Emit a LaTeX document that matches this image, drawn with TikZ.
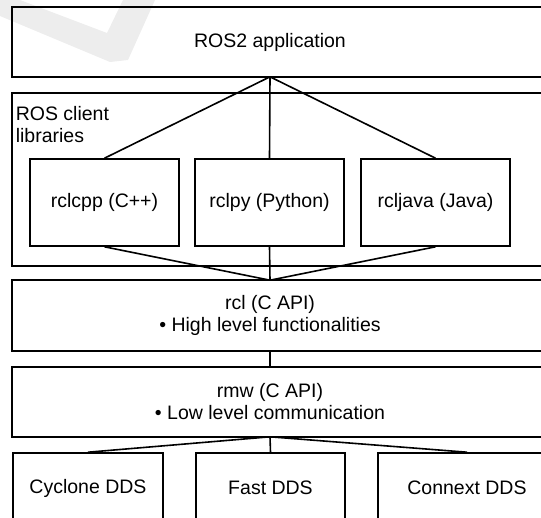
\documentclass[tikz,border=0pt]{standalone}
\usepackage{fontspec}
\setmainfont{Liberation Sans}
\begin{document}
\begin{tikzpicture}[x=1pt,y=-1pt, line width=1.6pt,
  lbl/.style={font=\fontsize{19.5}{22}\selectfont},
  box/.style={lbl, draw, rectangle, inner sep=0pt, align=center},
  wide/.style={lbl, rectangle, inner sep=0pt, minimum width=514pt, align=center},
  frame/.style={draw, line width=1.6pt},
  conn/.style={draw, line width=1.6pt},
  wmark/.style={fill=black, fill opacity=0.07, draw=none}]
\useasboundingbox (0,0) rectangle (541,517);
\clip (0,0) rectangle (541,517);
\fill[white] (0,0) rectangle (541,517);
% faint watermark
\path[wmark] (0,0) -- (20,0) -- (107,33) -- (123,0) -- (155,0) -- (128,60) -- (110,62) -- (0,16) -- cycle;

% top application layer
\node[wide, minimum height=68pt] (app) at (270,42) {ROS2 application};
\path[frame] (app.north west) rectangle ([xshift=40pt]app.south east);

% client library container
\node[wide, minimum height=171pt] (crl) at (270,179.5) {};
\path[frame] (crl.north west) rectangle ([xshift=40pt]crl.south east);
\node[lbl, anchor=north west, align=left, inner sep=0pt] (crllabel) at (15,106) {ROS client\\libraries};

\node[box, minimum width=149pt, minimum height=87pt] (cpp) at (104.5,202.5) {rclcpp (C++)};
\node[box, minimum width=149pt, minimum height=87pt] (py) at (269.5,202.5) {rclpy (Python)};
\node[box, minimum width=149pt, minimum height=87pt] (java) at (435.5,202.5) {rcljava (Java)};

% rcl
\node[wide, minimum height=69pt] (rcl) at (270,315.5) {rcl (C API)\\• High level functionalities};
\path[frame] (rcl.north west) rectangle ([xshift=40pt]rcl.south east);

% rmw
\node[wide, minimum height=68pt] (rmw) at (270,402) {rmw (C API)\\• Low level communication};
\path[frame] (rmw.north west) rectangle ([xshift=40pt]rmw.south east);

% DDS implementations
\node[box, minimum width=150pt, minimum height=70pt] (cyc) at (88,488) {Cyclone DDS};
\node[box, minimum width=149pt, minimum height=70pt] (fast) at (270.5,488) {Fast DDS};
\node[box, minimum width=178pt, minimum height=70pt] (cnx) at (467,488) {Connext DDS};

% connectors
\path[conn] (app.south) -- (cpp.north);
\path[conn] (app.south) -- (py.north);
\path[conn] (app.south) -- (java.north);
\path[conn] (cpp.south) -- (rcl.north);
\path[conn] (py.south) -- (rcl.north);
\path[conn] (java.south) -- (rcl.north);
\path[conn] (rcl.south) -- (rmw.north);
\path[conn] (rmw.south) -- (cyc.north);
\path[conn] (rmw.south) -- (fast.north);
\path[conn] (rmw.south) -- (cnx.north);
\end{tikzpicture}
\end{document}
